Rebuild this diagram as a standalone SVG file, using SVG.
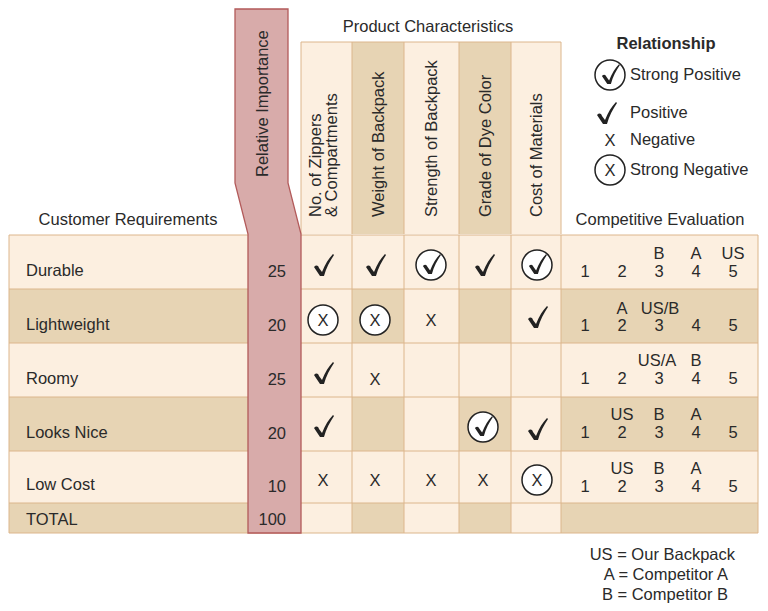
<svg xmlns="http://www.w3.org/2000/svg" width="768" height="611" viewBox="0 0 768 611">
<style>
text{font-family:"Liberation Sans",Arial,sans-serif;font-size:16.5px;fill:#2a2a2a}
.l{fill:#fcefe0}.d{fill:#e7d4b4}
.g{stroke:#dcb68c;stroke-width:1;fill:none}
.c{fill:#fff;stroke:#222;stroke-width:1.5}
.m{text-anchor:middle}
</style>
<defs>
<path id="ck" d="M-9,1 C-7,-1 -5,-1 -4,2 L-1,6 C2,-2 6,-8 10,-12 L11,-11 C7,-5 3,2 1,10 L-3,10 Z" fill="#222"/>
<g id="sck"><circle r="15" class="c"/><use href="#ck" transform="scale(0.9)"/></g>
<g id="x"><text class="m" y="6" style="font-size:16.5px">X</text></g>
<g id="sx"><circle r="15" class="c"/><use href="#x"/></g>
</defs>
<rect width="768" height="611" fill="#fff"/>
<g id="headers">
<rect x="301" y="42" width="51" height="192" class="l"/>
<rect x="352" y="42" width="52" height="192" class="d"/>
<rect x="404" y="42" width="55" height="192" class="l"/>
<rect x="459" y="42" width="52" height="192" class="d"/>
<rect x="511" y="42" width="50" height="192" class="l"/>
<path d="M301,234V42H561V234M352,42V234M404,42V234M459,42V234M511,42V234" class="g"/>
<text x="428" y="32" class="m">Product Characteristics</text>
<text transform="translate(321,217) rotate(-90)">No. of Zippers</text>
<text transform="translate(337,217) rotate(-90)">&amp; Compartments</text>
<text transform="translate(384,217) rotate(-90)">Weight of Backpack</text>
<text transform="translate(437,217) rotate(-90)">Strength of Backpack</text>
<text transform="translate(491,217) rotate(-90)">Grade of Dye Color</text>
<text transform="translate(542,217) rotate(-90)">Cost of Materials</text>
<text x="128" y="225" class="m">Customer Requirements</text>
<text x="660" y="225" class="m">Competitive Evaluation</text>
</g>
<g id="table">
<rect x="9" y="235" width="749" height="54" class="l"/>
<rect x="9" y="289" width="749" height="54" class="d"/>
<rect x="9" y="343" width="749" height="54" class="l"/>
<rect x="9" y="397" width="749" height="54" class="d"/>
<rect x="9" y="451" width="749" height="52" class="l"/>
<rect x="9" y="503" width="749" height="30" class="d"/>
<g class="l">
<rect x="301" y="289" width="51" height="54"/><rect x="404" y="289" width="55" height="54"/><rect x="511" y="289" width="50" height="54"/>
<rect x="301" y="397" width="51" height="54"/><rect x="404" y="397" width="55" height="54"/><rect x="511" y="397" width="50" height="54"/>
<rect x="301" y="503" width="51" height="30"/><rect x="404" y="503" width="55" height="30"/><rect x="511" y="503" width="50" height="30"/>
</g>
<path d="M9,235H758V533H9Z M9,289H758M9,343H758M9,397H758M9,451H758M9,503H758 M352,235V533M404,235V533M459,235V533M511,235V533M561,235V533" class="g"/>
</g>
<g id="importance">
<path d="M235,9H288V183L301,234V533H248V234L235,183Z" fill="#d8abaa" stroke="#b25a5a" stroke-width="1.3"/>
<text transform="translate(268,177) rotate(-90)">Relative Importance</text>
<g text-anchor="end">
<text x="286" y="277">25</text><text x="286" y="331">20</text><text x="286" y="385">25</text><text x="286" y="439">20</text><text x="286" y="492">10</text><text x="286" y="525">100</text>
</g>
</g>
<g id="rows">
<text x="26" y="276">Durable</text>
<text x="26" y="330">Lightweight</text>
<text x="26" y="384">Roomy</text>
<text x="26" y="438">Looks Nice</text>
<text x="26" y="490">Low Cost</text>
<text x="26" y="525">TOTAL</text>
</g>
<g id="relationships">
<use href="#ck" x="323" y="266"/><use href="#ck" x="375" y="266"/><use href="#sck" x="431" y="265"/><use href="#ck" x="484" y="266"/><use href="#sck" x="537" y="265"/>
<use href="#sx" x="323" y="320"/><use href="#sx" x="375" y="320"/><use href="#x" x="431" y="320"/><use href="#ck" x="537" y="318"/>
<use href="#ck" x="323" y="374"/><use href="#x" x="375" y="379"/>
<use href="#ck" x="323" y="427"/><use href="#sck" x="483" y="427"/><use href="#ck" x="537" y="430"/>
<use href="#x" x="323" y="480"/><use href="#x" x="375" y="480"/><use href="#x" x="431" y="480"/><use href="#x" x="483" y="480"/><use href="#sx" x="537" y="480"/>
</g>
<g id="evaluation">
<text x="585" y="277" class="m">1</text><text x="622" y="277" class="m">2</text><text x="659" y="277" class="m">3</text><text x="696" y="277" class="m">4</text><text x="733" y="277" class="m">5</text>
<text x="659" y="259" class="m">B</text><text x="696" y="259" class="m">A</text><text x="733" y="259" class="m">US</text>
<text x="585" y="331" class="m">1</text><text x="622" y="331" class="m">2</text><text x="659" y="331" class="m">3</text><text x="696" y="331" class="m">4</text><text x="733" y="331" class="m">5</text>
<text x="622" y="314" class="m">A</text><text x="660" y="314" class="m">US/B</text>
<text x="585" y="384" class="m">1</text><text x="622" y="384" class="m">2</text><text x="659" y="384" class="m">3</text><text x="696" y="384" class="m">4</text><text x="733" y="384" class="m">5</text>
<text x="657" y="366" class="m">US/A</text><text x="696" y="366" class="m">B</text>
<text x="585" y="438" class="m">1</text><text x="622" y="438" class="m">2</text><text x="659" y="438" class="m">3</text><text x="696" y="438" class="m">4</text><text x="733" y="438" class="m">5</text>
<text x="622" y="420" class="m">US</text><text x="659" y="420" class="m">B</text><text x="696" y="420" class="m">A</text>
<text x="585" y="492" class="m">1</text><text x="622" y="492" class="m">2</text><text x="659" y="492" class="m">3</text><text x="696" y="492" class="m">4</text><text x="733" y="492" class="m">5</text>
<text x="622" y="474" class="m">US</text><text x="659" y="474" class="m">B</text><text x="696" y="474" class="m">A</text>
</g>
<g id="legend">
<text x="666" y="49" class="m" style="font-weight:bold">Relationship</text>
<use href="#sck" x="610" y="75"/><text x="630" y="80">Strong Positive</text>
<use href="#ck" x="606" y="114"/><text x="630" y="118">Positive</text>
<use href="#x" x="610" y="140"/><text x="630" y="145">Negative</text>
<use href="#sx" x="610" y="170"/><text x="630" y="175">Strong Negative</text>
</g>
<g id="key" text-anchor="end">
<text x="735" y="560" text-anchor="end">US = Our Backpack</text>
<text x="728" y="580" text-anchor="end">A = Competitor A</text>
<text x="728" y="600" text-anchor="end">B = Competitor B</text>
</g>
</svg>
